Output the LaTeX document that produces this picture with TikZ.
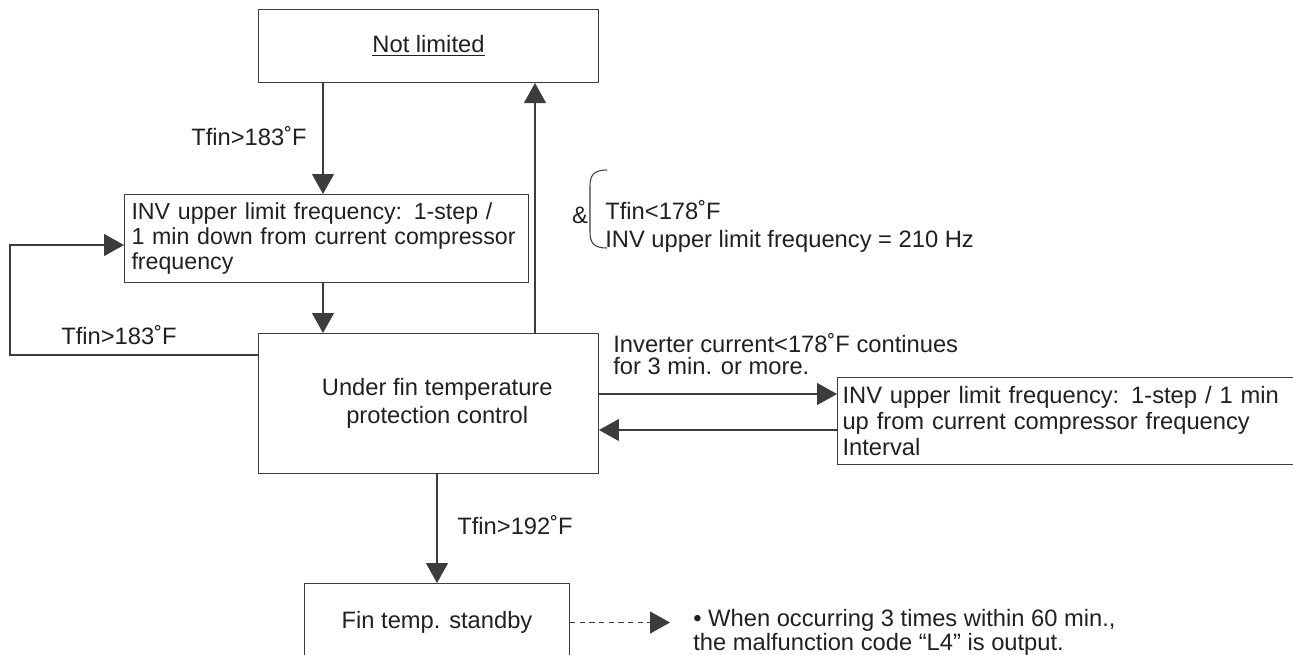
\documentclass[tikz,border=0pt]{standalone}
\usepackage{fontspec}
\setmainfont{Liberation Sans}
\usepackage{tikz}
\usetikzlibrary{positioning,arrows.meta}
\definecolor{inkgray}{RGB}{35,31,32}
\definecolor{linegray}{RGB}{60,60,60}
\tikzset{
  box/.style  = {draw=linegray, line width=0.6pt, align=center, inner sep=0pt, text=inkgray, anchor=north west},
  lbox/.style = {box, align=left, inner xsep=0.14cm},
  lbl/.style  = {inner sep=0pt, text=inkgray, align=left},
  flow/.style = {-{Triangle[length=0.4cm,width=0.44cm]}, line width=0.6pt, draw=linegray},
}

\begin{document}
\begin{tikzpicture}[x=0.02cm, y=-0.02cm, font=\fontsize{13.5}{14.5}\selectfont]
  \useasboundingbox (0,0) rectangle (1293,654);
  \clip (0,0) rectangle (1293,654);
  % boxes
  \node[box, minimum width=6.8cm, minimum height=1.46cm] (nolim) at (258,9) {\underline{Not limited}};
  \node[lbox, text width=7.8cm, minimum height=1.76cm, font=\fontsize{13.2}{14.3}\selectfont] (down) at (124,194)
    {INV upper limit frequency: 1-step /\\1 min down from current compressor\\frequency};
  \node[box, minimum width=6.8cm, minimum height=2.8cm, font=\fontsize{13.5}{16}\selectfont] (ctrl) at (258,333)
    {\hspace*{0.35cm}Under fin temperature\\\hspace*{0.35cm}protection control};
  \node[lbox, inner xsep=0.1cm, text width=9.6cm, minimum height=1.74cm, font=\fontsize{13.5}{15}\selectfont] (up) at (837,377)
    {INV upper limit frequency: 1-step / 1 min\\up from current compressor frequency\\Interval};
  \node[box, minimum width=5.3cm, minimum height=1.56cm] (standby) at (304,583) {Fin temp. standby};
  % labels
  \node[lbl, anchor=east] (tdown) at (307,136) {Tfin>183˚F};
  \node[lbl] (tloop) at (119,335) {Tfin>183˚F};
  \node[lbl] (amp) at (580,215) {\&};
  \node[lbl, anchor=west, font=\fontsize{13.5}{16}\selectfont] (cond) at (605,226)
    {Tfin<178˚F\\INV upper limit frequency = 210 Hz};
  \node[lbl, anchor=west, font=\fontsize{13.5}{12.5}\selectfont] (tinv) at (613,354)
    {Inverter current<178˚F continues\\for 3 min. or more.};
  \node[lbl, anchor=west] (tstop) at (457,525) {Tfin>192˚F};
  \node[lbl, anchor=west, font=\fontsize{13.5}{12}\selectfont] (note) at (693,632)
    {\textbullet\ When occurring 3 times within 60 min.,\\the malfunction code “L4” is output.};
  % helper coordinates
  \coordinate (xa) at (323,0);
  \coordinate (xb) at (535,0);
  \coordinate (xl) at (10,0);
  \coordinate (ya) at (0,355);
  \coordinate (yb) at (0,245);
  \coordinate (yc) at (0,394);
  \coordinate (yd) at (0,430);
  \coordinate (tip) at (670,0);
  % connectors
  \draw[flow] (nolim.south -| xa) -- (down.north -| xa);
  \draw[flow] (down.south -| xa) -- (ctrl.north -| xa);
  \draw[flow] (ctrl.north -| xb) -- (nolim.south -| xb);
  \draw[flow] (ctrl.west |- ya) -- (xl |- ya) -- (xl |- yb) -- (down.west |- yb);
  \draw[flow] (ctrl.east |- yc) -- (up.west |- yc);
  \draw[flow] (up.west |- yd) -- (ctrl.east |- yd);
  \draw[flow] (ctrl.south -| standby.north) -- (standby.north);
  \draw[flow, dash pattern=on 3pt off 2.5pt] (standby.east) -- (tip |- standby.east);
  % bracket
  \draw[line width=0.6pt, draw=linegray] (607,170) .. controls (594,170) and (590,175) .. (590,186)
    -- (590,232) .. controls (590,243) and (594,248) .. (607,248);
\end{tikzpicture}
\end{document}
